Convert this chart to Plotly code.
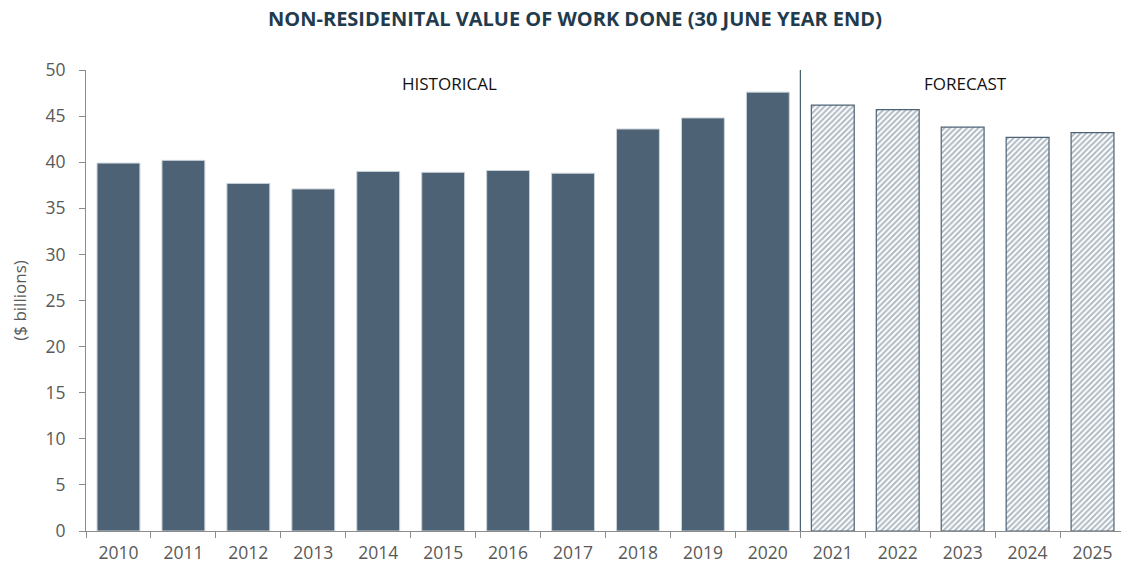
import plotly.graph_objects as go

# --- Data ---
hist_years = ["2010", "2011", "2012", "2013", "2014", "2015", "2016", "2017", "2018", "2019", "2020"]
hist_values = [39.9, 40.2, 37.7, 37.1, 39.0, 38.9, 39.1, 38.8, 43.6, 44.8, 47.6]
fc_years = ["2021", "2022", "2023", "2024", "2025"]
fc_values = [46.2, 45.7, 43.8, 42.7, 43.2]
y_ticks = [0, 5, 10, 15, 20, 25, 30, 35, 40, 45, 50]

bar_color = "#4D6375"
dark_blue = "#1F3B4D"
font_family = "Open Sans, sans-serif"

# page body adds an 8px margin, so the figure is a bit smaller than the window
W, H = 1121, 559

fig = go.Figure()
fig.add_trace(go.Bar(
    x=hist_years, y=hist_values, name="Historical",
    marker=dict(color=bar_color, line=dict(color="#C9D1D8", width=1)),
    width=0.66
))
fig.add_trace(go.Bar(
    x=fc_years, y=fc_values, name="Forecast",
    marker=dict(
        color="white",
        line=dict(color="#4D6375", width=1.2),
        pattern=dict(shape="/", fgcolor="#607487", bgcolor="white", size=4, solidity=0.5)
    ),
    width=0.66
))

# divider between historical and forecast
fig.add_shape(type="line", xref="x", yref="paper", x0=10.5, x1=10.5, y0=0, y1=1,
              line=dict(color=dark_blue, width=1))

fig.add_annotation(x=5.1, y=1, xref="x", yref="paper", text="HISTORICAL", showarrow=False,
                   yanchor="middle", yshift=-13, font=dict(size=17, color="#111111", family=font_family))
fig.add_annotation(x=13.05, y=1, xref="x", yref="paper", text="FORECAST", showarrow=False,
                   yanchor="middle", yshift=-13, font=dict(size=17, color="#111111", family=font_family))

fig.update_layout(
    title=dict(text="<b>NON-RESIDENITAL VALUE OF WORK DONE (30 JUNE YEAR END)</b>",
               x=(575 - 8) / W, xanchor="center", y=1, yanchor="top",
               pad=dict(t=4, b=0),
               font=dict(size=20, color=dark_blue, family=font_family)),
    width=W, height=H,
    margin=dict(l=78, r=4, t=62, b=36),
    plot_bgcolor="white", paper_bgcolor="white",
    showlegend=False,
    font=dict(family=font_family, size=17.5, color="#595959"),
    xaxis=dict(
        type="category", categoryorder="array", categoryarray=hist_years + fc_years,
        showline=True, linecolor="#8C8C8C", linewidth=1,
        ticks="outside", tickson="boundaries", ticklen=6, tickcolor="#8C8C8C",
        ticklabelstandoff=6,
        showgrid=False, range=[-0.5, 15.5], automargin=False
    ),
    yaxis=dict(
        title=dict(text="($ billions)", font=dict(size=17, color="#595959"), standoff=18),
        range=[0, 50], tickvals=y_ticks,
        showline=True, linecolor="#8C8C8C", linewidth=1,
        ticks="outside", ticklen=6, tickcolor="#8C8C8C",
        ticklabelstandoff=10,
        showgrid=False, zeroline=False, automargin=False
    ),
)

fig.write_html("out.html")
